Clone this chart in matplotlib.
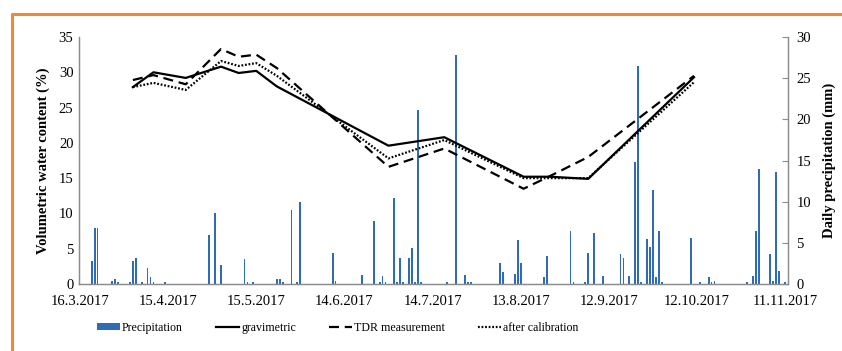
import matplotlib
matplotlib.use("Agg")
import matplotlib.pyplot as plt
import matplotlib.dates as mdates
from matplotlib.lines import Line2D
from matplotlib.ticker import FuncFormatter, MultipleLocator
import pandas as pd

plt.rcParams['font.family'] = ['Liberation Serif', 'DejaVu Serif']

# soil moisture measurements (vol. %)
meas_dates = ['2017-04-03', '2017-04-10', '2017-04-21', '2017-05-03', '2017-05-09',
              '2017-05-15', '2017-05-22', '2017-06-29', '2017-07-18', '2017-08-14',
              '2017-08-23', '2017-09-05', '2017-10-11']
gravimetric = [27.9, 30.0, 29.2, 30.8, 29.9, 30.2, 28.0, 19.6, 20.8, 15.2, 15.2, 14.9, 29.3]
tdr = [28.9, 29.6, 28.3, 33.3, 32.2, 32.5, 30.6, 16.6, 19.2, 13.5, 15.3, 18.0, 29.5]
after_cal = [27.9, 28.5, 27.5, 31.6, 30.9, 31.3, 29.5, 17.8, 20.4, 15.0, 15.0, 15.0, 28.6]

# daily precipitation: days after 16.3.2017 and mm
rain_day = [4, 5, 6, 11, 12, 13, 17, 18, 19, 21, 23, 24, 25, 29, 44, 46, 48, 56, 57, 59,
            67, 68, 69, 72, 74, 75, 86, 87, 96, 100, 102, 103, 104, 107, 108, 109, 110,
            112, 113, 114, 115, 116, 125, 128, 131, 132, 133, 143, 144, 148, 149, 150,
            158, 159, 167, 168, 172, 173, 175, 178, 184, 185, 187, 189, 190, 191, 193,
            194, 195, 196, 197, 198, 208, 211, 214, 215, 216, 227, 229, 230, 231, 235,
            236, 237, 238, 240]
rain_mm = [2.8, 6.8, 6.8, 0.4, 0.6, 0.2, 0.2, 2.8, 3.1, 0.2, 2.0, 0.8, 0.2, 0.2, 6.0, 8.6,
           2.3, 3.0, 0.2, 0.3, 0.6, 0.6, 0.2, 9.0, 0.2, 10.0, 3.8, 0.4, 1.1, 7.7, 0.2, 1.0,
           0.2, 10.4, 0.2, 3.2, 0.2, 3.2, 4.4, 0.2, 21.1, 0.2, 0.2, 27.8, 1.1, 0.2, 0.2,
           2.6, 1.4, 1.2, 5.4, 2.6, 0.8, 3.4, 6.4, 0.2, 0.2, 3.8, 6.2, 1.0, 3.6, 3.2, 1.0,
           14.8, 26.5, 0.2, 5.5, 4.5, 11.4, 0.9, 6.4, 0.2, 5.6, 0.2, 0.8, 0.2, 0.4, 0.2,
           1.0, 6.4, 14.0, 3.6, 0.4, 13.6, 1.6, 0.2]

start = pd.Timestamp('2017-03-16')
md = pd.to_datetime(meas_dates)
rd = start + pd.to_timedelta(rain_day, unit='D')

fig = plt.figure(figsize=(8.42, 3.51), dpi=100)
ax = fig.add_axes([79 / 842, 67 / 351, 709 / 842, 247 / 351])
ax2 = ax.twinx()
ax.set_zorder(2)
ax.patch.set_visible(False)

blue = '#2E6DB4'
ax2.bar(rd, rain_mm, width=0.6, color=blue, label='Precipitation')
ax.plot(md, gravimetric, color='black', lw=1.6, label='gravimetric')
ax.plot(md, tdr, color='black', lw=1.6, ls=(0, (4.5, 2.6)), label='TDR measurement')
ax.plot(md, after_cal, color='black', lw=1.6, ls=(0, (0.8, 0.8)), label='after calibration')

ax.set_xlim(start - pd.Timedelta(hours=8), start + pd.Timedelta(days=241))
ax.set_ylim(0, 35)
ax2.set_ylim(0, 30)
ax.yaxis.set_major_locator(MultipleLocator(5))
ax2.yaxis.set_major_locator(MultipleLocator(5))
ax.set_xticks([start + pd.Timedelta(days=30 * k) for k in range(9)])
ax.xaxis.set_major_formatter(FuncFormatter(
    lambda v, p: '{0.day}.{0.month}.{0.year}'.format(mdates.num2date(v))))

gray = '#8C8C8C'
for a in (ax, ax2):
    a.spines['top'].set_visible(False)
    for s in ('left', 'right', 'bottom'):
        a.spines[s].set_color(gray)
        a.spines[s].set_linewidth(0.9)
ax.tick_params(axis='y', length=0, labelsize=10.5, pad=4)
ax.tick_params(axis='x', length=0, labelsize=10.5, pad=8)
ax2.tick_params(axis='y', direction='in', length=4, color=gray, labelsize=10.5, pad=6)
ax2.tick_params(axis='x', length=0)

ax.set_ylabel('Volumetric water content (%)', fontsize=10.5, fontweight='bold', labelpad=6)
ax2.set_ylabel('Daily precipitation (mm)', fontsize=10.5, fontweight='bold', labelpad=8)

h1, l1 = ax2.get_legend_handles_labels()
h2, l2 = ax.get_legend_handles_labels()
fig.legend(h1 + h2, l1 + l2, loc='center left', bbox_to_anchor=(86 / 842, 1 - 328 / 351),
           ncol=4, frameon=False, prop={'family': 'Liberation Serif', 'size': 8.6},
           handlelength=1.95, handleheight=0.5, handletextpad=0.17, columnspacing=2.75)

orange = '#F58634'
fig.add_artist(Line2D([12 / 842, 12 / 842, 1.0], [0.0, 1 - 14 / 351, 1 - 14 / 351],
                      color=orange, lw=2.2, transform=fig.transFigure))

fig.savefig('out.png', dpi=100)
